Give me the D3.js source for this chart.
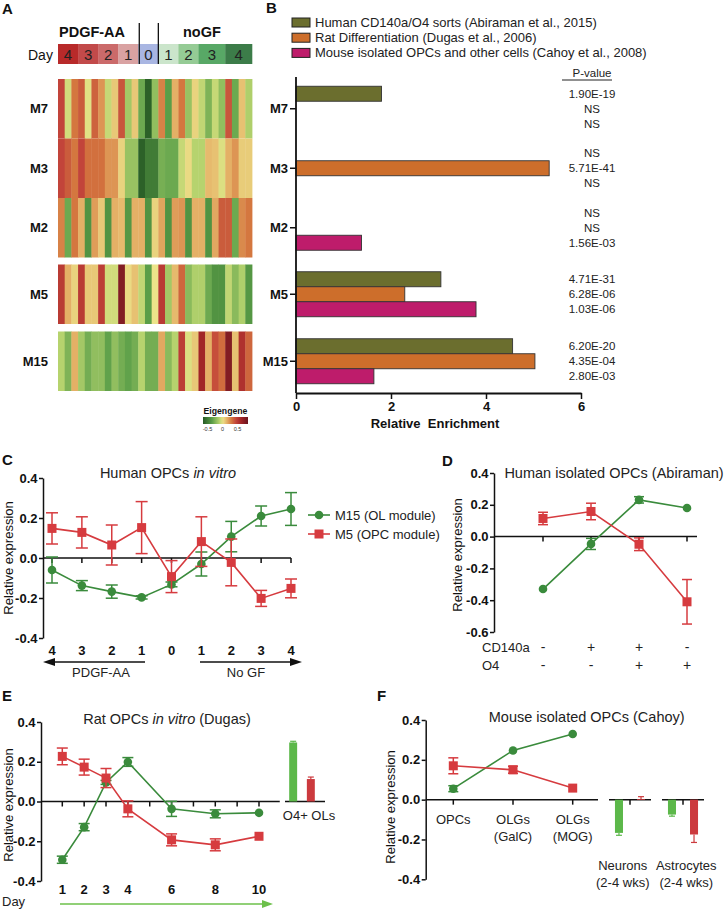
<!DOCTYPE html>
<html><head><meta charset="utf-8">
<script src="https://cdn.jsdelivr.net/npm/d3@7"></script>
<style>body{margin:0;background:#fff}svg{display:block}</style>
</head><body><svg id="chart" width="726" height="910"></svg>
<script>
// ---------- DATA ----------
// Panel A: heatmap eigengene values (29 samples)
const heatModules = ['M7','M3','M2','M5','M15'];
const heatM7  = [0.45,-0.05,0.3,0.38,-0.02,0.36,0.22,-0.07,0.08,0.4,-0.15,0.08,-0.3,-0.62,-0.2,0.27,-0.35,0.15,0.3,-0.18,0.05,-0.08,-0.25,-0.07,-0.2,0.4,-0.3,0.1,-0.12];
const heatM3  = [0.45,0.38,0.3,0.45,0.32,0.32,0.32,0.22,0.22,0.05,-0.18,-0.18,-0.62,-0.5,-0.5,-0.27,-0.3,-0.3,-0.07,0.03,-0.1,-0.1,0.12,0.1,-0.03,0.15,0.22,0.07,0.07];
const heatM2  = [0.27,-0.3,0.3,0.15,-0.4,0.2,0.08,-0.4,0.15,0.12,-0.38,0.15,0.15,-0.4,0.05,0.18,-0.4,0.2,0.22,-0.4,0.15,0.15,-0.4,0.17,0.38,0.38,-0.3,0.25,0.3];
const heatM5  = [0.5,0.15,0.05,0.5,0.08,0.08,0.48,-0.05,-0.05,0.75,0.03,0.1,-0.08,-0.35,0.0,0.5,-0.15,0.12,0.35,-0.22,-0.12,-0.12,-0.3,-0.4,-0.4,-0.08,-0.22,-0.12,-0.38];
const heatM15 = [-0.1,-0.25,0.15,-0.15,-0.28,-0.2,-0.2,-0.33,-0.2,-0.28,-0.33,-0.28,-0.1,-0.28,-0.28,0.17,-0.22,-0.1,0.48,-0.03,0.08,0.62,0.15,0.42,0.33,0.75,0.1,0.55,0.35];
const headerDays   = ['4','3','2','1','0','1','2','3','4'];
const headerCounts = [3,3,3,3,3,3,3,4,4];
const headerColors = ['#b82a2a','#c24a4a','#cb6a6a','#d9a2a2','#a9b6e2','#cbe5cb','#95cb95','#58a866','#3c7c49'];
const legendTicks = [-0.5,0,0.5];

// Panel B: relative enrichment
const enrichDatasets = ['Human CD140a/O4 sorts (Abiraman et al., 2015)','Rat Differentiation (Dugas et al., 2006)','Mouse isolated OPCs and other cells (Cahoy et al., 2008)'];
const enrichHuman = [1.80, null, null, 3.05, 4.56];
const enrichRat   = [null, 5.33, null, 2.29, 5.03];
const enrichMouse = [null, null, 1.38, 3.79, 1.64];
const pHuman = ['1.90E-19','NS','NS','4.71E-31','6.20E-20'];
const pRat   = ['NS','5.71E-41','NS','6.28E-06','4.35E-04'];
const pMouse = ['NS','NS','1.56E-03','1.03E-06','2.80E-03'];
const enrichTicks = [0,2,4,6];

// Panel C: Human OPCs in vitro
const cLabels = ['4','3','2','1','0','1','2','3','4'];
const cM15    = [-0.06,-0.138,-0.168,-0.197,-0.132,-0.03,0.107,0.21,0.245];
const cM15Err = [0.065,0.025,0.033,0.008,0.012,0.06,0.076,0.05,0.082];
const cM5     = [0.148,0.128,0.065,0.152,-0.093,0.082,-0.022,-0.202,-0.152];
const cM5Err  = [0.078,0.078,0.1,0.13,0.08,0.124,0.117,0.04,0.047];
const exprTicks = [-0.4,-0.2,0,0.2,0.4];

// Panel D: Human isolated OPCs (Abiraman)
const dCD140a = ['-','+','+','-'];
const dO4     = ['-','-','+','+'];
const dM15    = [-0.33,-0.046,0.231,0.18];
const dM15Err = [0,0.035,0.02,0];
const dM5     = [0.114,0.158,-0.048,-0.41];
const dM5Err  = [0.039,0.052,0.04,0.14];
const dTicks  = [-0.6,-0.4,-0.2,0,0.2,0.4];

// Panel E: Rat OPCs in vitro (Dugas)
const eDays   = [1,2,3,4,6,8,10];
const eM15    = [-0.293,-0.129,0.096,0.199,-0.037,-0.062,-0.057];
const eM15Err = [0.018,0.018,0.01,0.022,0.038,0.02,0];
const eM5     = [0.227,0.173,0.118,-0.037,-0.193,-0.218,-0.175];
const eM5Err  = [0.042,0.04,0.048,0.04,0.03,0.03,0];
const eBarLabel = 'O4+ OLs';
const eBarVals = [0.297, 0.113];
const eBarErrs = [0.006, 0.01];

// Panel F: Mouse isolated OPCs (Cahoy)
const fLabels = [['OPCs'],['OLGs','(GalC)'],['OLGs','(MOG)']];
const fM15    = [0.055,0.247,0.33];
const fM15Err = [0.015,0,0];
const fM5     = [0.17,0.15,0.058];
const fM5Err  = [0.04,0.018,0];
const fBarGroups = [['Neurons','(2-4 wks)'],['Astrocytes','(2-4 wks)']];
const fBarM15    = [-0.167,-0.075];
const fBarM15Err = [0.012,0.008];
const fBarM5     = [0.003,-0.175];
const fBarM5Err  = [0.012,0.04];

// ---------- STYLE ----------
const FONT = '"Liberation Sans", Arial, Helvetica, sans-serif';
const C_GREEN = '#3a8b3c', C_RED = '#d63b3f';
const B_GREEN = '#5cb84a', B_RED = '#cc3a3e';
const DS_COLORS = ['#6b6e2e','#cd6e2b','#be1c6b'];

const svg = d3.select('#chart').attr('font-family', FONT);

function T(g,x,y,s,o={}){
  const t=g.append('text').attr('x',x).attr('y',y).attr('font-size',o.size||13)
    .attr('text-anchor',o.anchor||'start').attr('fill',o.fill||'#111');
  if(o.bold) t.attr('font-weight','bold');
  if(o.italic) t.attr('font-style','italic');
  if(o.pre) t.style('white-space','pre');
  t.text(s); return t;
}
function styleAxis(a, size){
  a.attr('font-family',FONT);
  a.selectAll('text').attr('font-size',size||13).attr('font-weight','bold').attr('fill','#111');
  a.selectAll('path,line').attr('stroke','#111').attr('stroke-width',1.5);
}
function yAxis(g,y,x,ticks){
  const a=g.append('g').attr('transform',`translate(${x},0)`)
    .call(d3.axisLeft(y).tickValues(ticks).tickFormat(d=>d.toFixed(1)).tickSize(4).tickSizeOuter(0).tickPadding(1.5));
  styleAxis(a);
}
function yLabel(g,x,y,s){
  g.append('text').attr('transform',`translate(${x},${y}) rotate(-90)`).attr('text-anchor','middle')
    .attr('font-size',13).attr('fill','#111').text(s);
}
function hline(g,x1,x2,y,color,w){g.append('line').attr('x1',x1).attr('x2',x2).attr('y1',y).attr('y2',y).attr('stroke',color||'#111').attr('stroke-width',w||1.5);}
function vline(g,x,y1,y2,color,w){g.append('line').attr('x1',x).attr('x2',x).attr('y1',y1).attr('y2',y2).attr('stroke',color||'#111').attr('stroke-width',w||1.5);}
function series(g,xs,y,vals,errs,color,shape,capW){
  g.append('path').attr('d',d3.line()(vals.map((v,i)=>[xs[i],y(v)]))).attr('fill','none').attr('stroke',color).attr('stroke-width',1.6);
  vals.forEach((v,i)=>{
    const e=errs[i]; if(!e) return;
    const x=xs[i], y1=y(v+e), y2=y(v-e);
    vline(g,x,y1,y2,color,1.5);
    hline(g,x-capW/2,x+capW/2,y1,color,1.5);
    hline(g,x-capW/2,x+capW/2,y2,color,1.5);
  });
  vals.forEach((v,i)=>{
    if(shape==='circle') g.append('circle').attr('cx',xs[i]).attr('cy',y(v)).attr('r',4.3).attr('fill',color);
    else g.append('rect').attr('x',xs[i]-4.5).attr('y',y(v)-4.5).attr('width',9).attr('height',9).attr('fill',color);
  });
}
function titleMixed(g,x,y,parts){
  const t=g.append('text').attr('x',x).attr('y',y).attr('text-anchor','middle').attr('font-size',14.5).attr('fill','#222');
  parts.forEach(p=>t.append('tspan').attr('font-style',p[1]?'italic':'normal').text(p[0]));
}
function bar(g,x,w,y,v,e,color){
  const y0=y(0), yv=y(v);
  const top=Math.min(y0,yv), h=Math.abs(yv-y0);
  if(e){
    const ye=y(v+(v>=0?e:-e));
    vline(g,x+w/2,yv,ye,color,1.2);
    hline(g,x+w/2-3,x+w/2+3,ye,color,1.2);
  }
  g.append('rect').attr('x',x).attr('y',top).attr('width',w).attr('height',Math.max(h,0.8)).attr('fill',color);
}

// ---------- PANEL A ----------
const gA=svg.append('g');
T(gA,2,14,'A',{size:15,bold:true});
const heatRows=[heatM7,heatM3,heatM2,heatM5,heatM15];
const xH=d3.scaleBand().domain(d3.range(heatM7.length)).range([58,252]);
const rowBand=d3.scaleBand().domain(heatModules).range([79,376.5]);
const rowGap={M7:0,M3:0,M2:0,M5:7,M15:14.5};
const rowTop=m=>rowBand(m)+rowGap[m];
const rowMid=m=>rowTop(m)+rowBand.bandwidth()/2;
const heatColor=d3.scaleLinear()
  .domain([-0.7,-0.35,-0.1,0,0.15,0.3,0.45,0.6,0.85])
  .range(['#1f4f1f','#5a9e48','#b6d36e','#ece48a','#e4b066','#d4773f','#c2443a','#a62828','#6a1520']).clamp(true);
heatModules.forEach((m,ri)=>{
  gA.append('g').selectAll('rect').data(heatRows[ri]).join('rect')
    .attr('x',(d,i)=>xH(i)).attr('y',rowTop(m)).attr('width',xH.bandwidth()+0.4).attr('height',rowBand.bandwidth())
    .attr('fill',d=>heatColor(d));
  T(gA,48,rowMid(m)+4.5,m,{bold:true,anchor:'end'});
});
// header
let st=0; const bounds=[];
headerDays.forEach((d,i)=>{
  const n=headerCounts[i]; const x0=xH(st), x1=xH(st+n-1)+xH.bandwidth();
  gA.append('rect').attr('x',x0).attr('y',44).attr('width',x1-x0+0.3).attr('height',20).attr('fill',headerColors[i]);
  T(gA,(x0+x1)/2,59.5,d,{size:15,anchor:'middle',fill:'#222'});
  bounds.push(x0); st+=n;
});
vline(gA,bounds[4]+1,23,64,'#111',1.3);
vline(gA,bounds[5],23,64,'#111',1.3);
T(gA,59,37,'PDGF-AA',{size:14.5,bold:true});
T(gA,183,37,'noGF',{size:14.5,bold:true});
T(gA,28,59.5,'Day',{size:14});
// eigengene legend
const xL=d3.scaleLinear().domain([-0.65,0.85]).range([203,248]);
const grad=svg.append('defs').append('linearGradient').attr('id','eg');
d3.range(0,1.0001,0.05).forEach(t=>{
  grad.append('stop').attr('offset',t).attr('stop-color',heatColor(xL.invert(203+45*t)));
});
T(gA,203.5,414,'Eigengene',{size:8.7,bold:true});
gA.append('rect').attr('x',203).attr('y',417).attr('width',45).attr('height',7).attr('fill','url(#eg)');
legendTicks.forEach(t=>T(gA,xL(t),431,String(t),{size:5.5,anchor:'middle',fill:'#333'}));

// ---------- PANEL B ----------
const gB=svg.append('g');
T(gB,266,13,'B',{size:15,bold:true});
enrichDatasets.forEach((d,i)=>{
  const cy=22.5+i*15.2;
  gB.append('rect').attr('x',292).attr('y',cy-4.5).attr('width',18).attr('height',9).attr('fill',DS_COLORS[i]).attr('stroke','#222').attr('stroke-width',1);
  T(gB,315,cy+4.5,d,{size:13,fill:'#222'});
});
const xB=d3.scaleLinear().domain([0,6]).range([296,581]);
const inner=d3.scaleBand().domain([0,1,2]).range([-22.5,22.5]);
const enrichSets=[enrichHuman,enrichRat,enrichMouse];
const pSets=[pHuman,pRat,pMouse];
heatModules.forEach((m,mi)=>{
  enrichSets.forEach((s,si)=>{
    const v=s[mi];
    if(v!=null) gB.append('rect').attr('x',xB(0)).attr('y',rowMid(m)+inner(si)).attr('width',xB(v)-xB(0)).attr('height',inner.bandwidth())
      .attr('fill',DS_COLORS[si]).attr('stroke','#333').attr('stroke-width',0.9);
    T(gB,592,rowMid(m)+inner(si)+inner.bandwidth()/2+4,pSets[si][mi],{size:11.5,anchor:'middle',fill:'#222'});
  });
  hline(gB,290,296,rowMid(m),'#111',1.5);
  T(gB,288,rowMid(m)+4.5,m,{bold:true,anchor:'end'});
});
vline(gB,xB(0),77,393,'#111',1.8);
const axB=gB.append('g').attr('transform','translate(0,393)')
  .call(d3.axisBottom(xB).tickValues(enrichTicks).tickFormat(d3.format('d')).tickSize(6).tickSizeOuter(0).tickPadding(3));
styleAxis(axB); axB.select('.domain').attr('stroke-width',1.8);
T(gB,435,428,'Relative  Enrichment',{bold:true,anchor:'middle',pre:true});
T(gB,592,77,'P-value',{size:11.5,anchor:'middle',fill:'#222'});
hline(gB,562,612,80,'#222',1.2);

// ---------- PANEL C ----------
const gC=svg.append('g');
T(gC,2,465,'C',{size:15,bold:true});
const xC=d3.scalePoint().domain(d3.range(cLabels.length)).range([52,291]);
const yC=d3.scaleLinear().domain([-0.4,0.4]).range([638,478]);
yAxis(gC,yC,43,exprTicks);
hline(gC,43,xC(cLabels.length-1),yC(0));
cLabels.forEach((l,i)=>{vline(gC,xC(i),yC(0),yC(0)+5); T(gC,xC(i),655,l,{bold:true,anchor:'middle'});});
const xsC=cLabels.map((d,i)=>xC(i));
series(gC,xsC,yC,cM15,cM15Err,C_GREEN,'circle',12);
series(gC,xsC,yC,cM5,cM5Err,C_RED,'square',12);
titleMixed(gC,168,478,[['Human OPCs ',false],['in vitro',true]]);
yLabel(gC,13,558,'Relative expression');
// legend
hline(gC,308,330,515,C_GREEN,1.6); gC.append('circle').attr('cx',319).attr('cy',515).attr('r',4.3).attr('fill',C_GREEN);
hline(gC,308,330,534,C_RED,1.6); gC.append('rect').attr('x',314.5).attr('y',529.5).attr('width',9).attr('height',9).attr('fill',C_RED);
T(gC,335,519.5,'M15 (OL module)',{fill:'#222'});
T(gC,335,538.5,'M5 (OPC module)',{fill:'#222'});
// arrows
function arrow(g,x1,x2,y,color,hl,hw){
  const dir=Math.sign(x2-x1);
  hline(g,x1,x2-dir*hl*0.8,y,color,1.6);
  g.append('path').attr('d',`M${x2},${y}L${x2-dir*hl},${y-hw/2}L${x2-dir*hl},${y+hw/2}Z`).attr('fill',color);
}
arrow(gC,145,43,662,'#111',12,8);
arrow(gC,200,302,662,'#111',12,8);
T(gC,101,677,'PDGF-AA',{anchor:'middle',fill:'#222'});
T(gC,246,677,'No GF',{anchor:'middle',fill:'#222'});

// ---------- PANEL D ----------
const gD=svg.append('g');
T(gD,442,466,'D',{size:15,bold:true});
const xD=d3.scalePoint().domain(d3.range(dCD140a.length)).range([543,687]);
const yD=d3.scaleLinear().domain([-0.6,0.4]).range([632,473]);
yAxis(gD,yD,494,dTicks);
hline(gD,494,697,yD(0));
dCD140a.forEach((s,i)=>{vline(gD,xD(i),yD(0),yD(0)+5);});
const xsD=dCD140a.map((d,i)=>xD(i));
series(gD,xsD,yD,dM15,dM15Err,C_GREEN,'circle',10);
series(gD,xsD,yD,dM5,dM5Err,C_RED,'square',10);
T(gD,614,478,'Human isolated OPCs (Abiraman)',{size:14.5,anchor:'middle',fill:'#222'});
yLabel(gD,462,555,'Relative expression');
T(gD,482,651.5,'CD140a',{fill:'#222'});
T(gD,482,669.5,'O4',{fill:'#222'});
dCD140a.forEach((s,i)=>T(gD,xD(i),651.5,s,{size:14,anchor:'middle',fill:'#222'}));
dO4.forEach((s,i)=>T(gD,xD(i),669.5,s,{size:14,anchor:'middle',fill:'#222'}));

// ---------- PANEL E ----------
const gE=svg.append('g');
T(gE,2,701,'E',{size:15,bold:true});
const xE=d3.scaleLinear().domain([1,10]).range([62.3,259]);
const yE=d3.scaleLinear().domain([-0.4,0.4]).range([881,722]);
yAxis(gE,yE,41,exprTicks);
hline(gE,41,xE(10.95),yE(0));
d3.range(1,11).forEach(d=>vline(gE,xE(d),yE(0),yE(0)+5));
eDays.forEach(d=>T(gE,xE(d),893.5,String(d),{bold:true,anchor:'middle'}));
const xsE=eDays.map(d=>xE(d));
series(gE,xsE,yE,eM15,eM15Err,C_GREEN,'circle',11);
series(gE,xsE,yE,eM5,eM5Err,C_RED,'square',11);
titleMixed(gE,167,724,[['Rat OPCs ',false],['in vitro',true],[' (Dugas)',false]]);
yLabel(gE,13,805,'Relative expression');
T(gE,2,906,'Day',{fill:'#222'});
arrow(gE,60,273,904,'#6cc04a',11,8);
// O4+ OLs bars
const xEb=d3.scaleBand().domain([0,1]).range([283,321]).paddingInner(0.55).paddingOuter(0.35);
hline(gE,285,325,yE(0));
bar(gE,xEb(0),xEb.bandwidth(),yE,eBarVals[0],eBarErrs[0],B_GREEN);
bar(gE,xEb(1),xEb.bandwidth(),yE,eBarVals[1],eBarErrs[1],B_RED);
T(gE,309,819.5,eBarLabel,{anchor:'middle',fill:'#222'});

// ---------- PANEL F ----------
const gF=svg.append('g');
T(gF,377,701,'F',{size:15,bold:true});
const xF=d3.scalePoint().domain(d3.range(fLabels.length)).range([453.3,572.7]);
const yF=d3.scaleLinear().domain([-0.4,0.4]).range([879.3,720]);
yAxis(gF,yF,425.7,exprTicks);
hline(gF,425.7,598,yF(0));
fLabels.forEach((ls,i)=>{
  vline(gF,xF(i),yF(0),yF(0)+5);
  ls.forEach((l,k)=>T(gF,xF(i),823.5+k*17,l,{anchor:'middle',fill:'#222'}));
});
const xsF=fLabels.map((d,i)=>xF(i));
series(gF,xsF,yF,fM15,fM15Err,C_GREEN,'circle',10);
series(gF,xsF,yF,fM5,fM5Err,C_RED,'square',10);
T(gF,586.7,722,'Mouse isolated OPCs (Cahoy)',{size:14.5,anchor:'middle',fill:'#222'});
yLabel(gF,395,807,'Relative expression');
const xFg=d3.scaleBand().domain(d3.range(fBarGroups.length)).range([603.5,709.5]);
const xFi=d3.scaleBand().domain([0,1]).range([0,xFg.bandwidth()]).paddingInner(0.636).paddingOuter(0.52);
const xFlab=d3.scaleBand().domain(d3.range(fBarGroups.length)).range([591,718]);
fBarGroups.forEach((ls,gi)=>{
  const g0=xFg(gi), bw=xFg.bandwidth();
  hline(gF,g0+5.5,g0+bw-5.5,yF(0));
  vline(gF,g0+bw/2,yF(0),yF(0)+5);
  bar(gF,g0+xFi(0),xFi.bandwidth(),yF,fBarM15[gi],fBarM15Err[gi],B_GREEN);
  bar(gF,g0+xFi(1),xFi.bandwidth(),yF,fBarM5[gi],fBarM5Err[gi],B_RED);
  ls.forEach((l,k)=>T(gF,xFlab(gi)+xFlab.bandwidth()/2,869.5+k*17,l,{anchor:'middle',fill:'#222'}));
});
</script></body></html>
